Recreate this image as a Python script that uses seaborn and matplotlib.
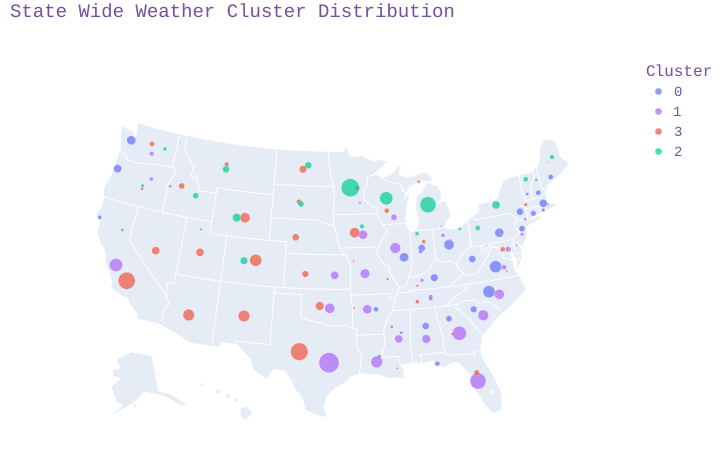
import numpy as np
import pandas as pd
import matplotlib
matplotlib.use("Agg")
import matplotlib.pyplot as plt
from matplotlib.lines import Line2D
import seaborn as sns

TITLE = "State Wide Weather Cluster Distribution"
LEGEND_TITLE = "Cluster"
CLUSTER_ORDER = ["0", "1", "3", "2"]
CLUSTER_COLORS = ["#636efa", "#ab63fa", "#ef553b", "#00cc96"]

# cluster points: position on the projected map, and diameter-like magnitude
c0_x = [131.3,117.7,99.7,449,421.7,404,472.3,495.7,499.3,522,520,533.3,543.3,538.3,527.3,550.7,543.3,516.7,487,434.3,489,430.7,376,473.7,449,425.7,401.3,379.3,437.3,387.7,205.7,252.3]
c0_y = [140.3,168.7,217.3,244.7,248,257.3,259,266.7,232.7,228.7,211.7,213.3,203.3,192.7,194,177,210,245.3,245,277.7,291.7,296.7,309.3,309.3,318.7,326,332.7,356.7,363.7,279,311,292.3]
c0_d = [9,8,4,10,7,9,7,12,9,6,7,5.5,8,5,3,5,3.5,2,1,7.5,12,4,5,6.5,6,7,3,4,5,2.5,1,1]

c1_x = [151.7,151.3,170.3,116,179.7,360,394,363,395.3,420.7,443,441,525.3,522,508.3,504,548.3,329,329.7,334.7,365,422,367.3,430.7,499.3,483.3,459.3,398.7,426.3,376.7,478]
c1_y = [153.7,179,186.3,265,142.3,202.7,217.3,234.7,248,251.7,235.3,226,219.3,234.3,249.3,267.3,204.3,362.7,308.3,275.3,273.7,280.3,309.3,298.7,294.3,315.3,333.3,339,339,362,381]
c1_d = [4.5,4,3,13,1.5,2.5,6,9,10.5,4,4,2,3,3.5,5.5,5,2,20,10,8,9.5,3.5,9,4,10,10.5,14,8,8.5,11.5,16]

c3_x = [152,142,181.7,226.7,303,299,245,295.7,155.7,200,255.7,357.3,386.7,418.7,354.7,423.7,353.7,525.7,502.7,382.3,531,547.3,450.7,501.7,126.7,188.7,244,299.3,319.7,305.3,417.3,417.3,354,391.7,452.7,476.7,397.3,506.7,496.7,347.3]
c3_y = [144,188.7,186,164.3,169.3,201.7,217.7,237.3,250.7,252.3,260.3,188.3,210.7,181.7,232.7,241.7,261,204.7,249.3,257.7,179,162.3,240,235,280.7,315,316,351.7,306,274,285.7,301.7,308.3,327,334,372.7,368.3,271.3,296.7,339.3]
c3_d = [5,3,6,4.5,7.5,5,10,7,8,8,12,5,5,3,10,4,2,3.5,5,1.5,1,1.5,2,2,17,11.5,11.5,17.5,8.5,6.5,2.5,4,2,3,3,5.5,2,2,2,1]

c2_x = [165,142.7,195.7,226,308.3,301,236.7,122.3,201,244,303,248.7,320.3,350.3,386.3,428,496,362,417,459.7,477.7,525.7,536.3,552]
c2_y = [149,185.7,195.7,169.3,165.3,204,217.7,230,229.3,260.7,224.7,229.7,211,187.7,198.3,204.7,205,226.3,233.7,229,228,179.3,180,157]
c2_d = [4,3.5,6,7,7,6,8.5,3,2.5,7.5,1,1,1,18,13,16,8,4.5,4,3,5,5,3,4.5]

# geography, lon/lat
coast = [(-124.7,48.4),(-123.1,48.15),(-122.95,48.1),(-122.7,47.4),(-122.5,48.0),(-122.75,49),(-95.15,49),(-95.15,49.38),(-94.8,49.3),(-94.6,48.7),(-93.8,48.55),(-92.95,48.62),(-92,48.3),(-91.4,48.07),(-90.8,48.2),(-89.6,48),(-90.8,47.3),(-92.1,46.75),(-91,46.9),(-90.4,46.55),(-89,46.9),(-88.4,47.4),(-87.9,47.47),(-88.4,46.8),(-87.4,46.5),(-86.5,46.5),(-85,46.75),(-84.4,46.5),(-84.1,46),(-84.7,45.95),(-85.5,46.08),(-86.4,45.8),(-87,45.7),(-87.6,45.1),(-88,44.55),(-87.4,44.9),(-87.05,45.25),(-87.5,44.3),(-87.9,43),(-87.8,42.3),(-87.6,41.8),(-87.2,41.63),(-86.6,41.9),(-86.25,42.6),(-86.5,43.6),(-86.25,44.7),(-85.6,45),(-85,45.7),(-84.7,45.78),(-83.5,45.35),(-83.3,44.9),(-83.3,44.3),(-83.9,43.9),(-83.4,43.95),(-82.9,44.07),(-82.45,43),(-82.5,42.6),(-83.1,42.25),(-83.4,41.72),(-82.7,41.5),(-81.7,41.5),(-80.5,42),(-79,42.7),(-78.9,42.9),(-79.05,43.26),(-77.5,43.27),(-76.4,43.5),(-76.2,44),(-75.3,44.85),(-74.7,45),(-71.5,45.01),(-71.3,45.3),(-70.85,45.25),(-70.3,45.9),(-70,46.7),(-69.2,47.45),(-68.3,47.35),(-67.8,47.07),(-67.8,45.7),(-67.45,45.3),(-67,44.85),(-68.2,44.3),(-69,44),(-70.2,43.6),(-70.7,43),(-70.8,42.6),(-71,42.3),(-70.6,41.95),(-70,41.8),(-70,42.05),(-69.95,41.67),(-70.65,41.55),(-71.2,41.48),(-71.4,41.45),(-72.9,41.25),(-73.7,40.95),(-72.3,41.15),(-71.9,41.05),(-73.9,40.55),(-74,40.45),(-74.1,39.75),(-74.9,38.95),(-75.5,39.5),(-75.1,38.8),(-75.2,38),(-75.95,37.15),(-75.8,37.9),(-76.2,38.8),(-76.1,39.4),(-76.5,38.9),(-76.3,37.9),(-76.3,37),(-75.95,36.6),(-75.5,35.25),(-76.5,34.65),(-77.9,33.9),(-79,33.4),(-79.9,32.7),(-81,32),(-81.4,30.7),(-81.3,29.9),(-80.55,28.45),(-80.05,26.9),(-80.15,25.75),(-80.4,25.2),(-81.1,25.15),(-81.8,26.1),(-82.2,26.9),(-82.75,27.8),(-82.65,28.7),(-83.7,29.9),(-84.2,30.05),(-85.3,29.68),(-86.3,30.38),(-87.5,30.28),(-88,30.25),(-88,30.7),(-88.1,30.35),(-89.3,30.3),(-89.6,30.18),(-89.4,29.9),(-89.4,29.2),(-89.1,29.05),(-90.1,29.15),(-91,29.2),(-91.8,29.5),(-92.3,29.53),(-93.8,29.7),(-94.7,29.4),(-95.3,28.9),(-96.4,28.35),(-97.2,27.6),(-97.4,26.8),(-97.15,25.95),(-97.5,25.85),(-99.1,26.4),(-99.5,27.5),(-100.3,28.3),(-100.7,29.1),(-101.4,29.77),(-102.3,29.88),(-102.7,29.7),(-103.15,28.98),(-104.5,29.65),(-104.9,30.6),(-106.5,31.75),(-108.2,31.78),(-108.2,31.33),(-111.07,31.33),(-114.8,32.5),(-117.12,32.53),(-117.3,33),(-118.4,33.75),(-118.5,34.03),(-119.2,34.15),(-120.6,34.55),(-120.65,35.15),(-121.9,36.6),(-122,36.95),(-122.5,37.75),(-123,38),(-123.7,38.9),(-123.8,39.8),(-124.4,40.4),(-124.1,41),(-124.2,42),(-124.5,42.85),(-124.1,44),(-123.95,46.2),(-124.1,46.9)]

borders = [
 [(-124,46.25),(-123.2,46.15),(-122.8,45.65),(-121.2,45.65),(-119.3,45.93),(-116.92,46)],
 [(-117.03,49),(-117.04,46.42),(-116.92,46),(-116.5,45.5),(-116.9,44.9),(-117.2,44.4),(-117.03,43.8),(-117.03,42)],
 [(-124.2,42),(-111.05,42)],
 [(-120,42),(-120,39),(-114.63,35),(-114.15,34.3),(-114.5,33.9),(-114.7,33.4),(-114.5,33),(-114.72,32.72)],
 [(-114.04,42),(-114.04,36.2),(-114.75,36.1),(-114.63,35)],
 [(-114.04,37),(-94.62,37)],
 [(-109.05,41),(-109.05,31.33)],
 [(-111.05,45),(-104.05,45)],
 [(-104.05,41),(-111.05,41),(-111.05,45)],
 [(-116.05,49),(-116.05,48),(-115.7,47.45),(-114.7,46.7),(-114.35,46.65),(-114.55,45.55),(-113.95,45.7),(-113.45,44.95),(-113,44.45),(-111.5,44.55),(-111.05,44.48)],
 [(-104.05,49),(-104.05,41)],
 [(-104.05,45.94),(-96.56,45.94)],
 [(-104.05,43),(-98.5,43),(-97.9,42.8),(-96.45,42.49)],
 [(-104.05,41),(-102.05,41),(-102.05,37)],
 [(-102.05,40),(-95.3,40)],
 [(-103,37),(-103,36.5),(-100,36.5),(-100,34.56),(-99.2,34.3),(-98.1,34.13),(-97.2,33.85),(-96.5,33.8),(-95.2,33.9),(-94.48,33.64)],
 [(-103.04,36.5),(-103.06,32),(-106.62,32),(-106.5,31.75)],
 [(-94.62,37),(-94.62,36.5),(-94.43,35.4),(-94.48,33.64),(-94.04,33.55),(-94.04,31.99),(-93.55,31.2),(-93.7,30.3),(-93.85,29.7)],
 [(-94.04,33.02),(-91.17,33),(-91.1,32.2),(-91.6,31),(-89.75,31),(-89.8,30.6),(-89.55,30.18)],
 [(-91.17,33),(-91.15,33.5),(-90.6,34.5),(-90.1,35),(-89.7,36),(-90.37,36),(-90.15,36.5),(-94.62,36.5)],
 [(-89.7,36),(-89.5,36.5),(-89.15,37)],
 [(-95.3,40),(-94.9,39.75),(-94.6,39.1),(-94.62,37)],
 [(-95.77,40.58),(-91.73,40.6),(-91.42,40.38)],
 [(-96.45,42.49),(-96.1,41.5),(-95.85,40.7),(-95.3,40)],
 [(-91.42,40.38),(-91.5,40),(-90.7,39),(-90.15,38.8),(-90.2,38.4),(-89.5,37.3),(-89.15,37)],
 [(-91.42,40.38),(-91.1,40.7),(-90.95,41.1),(-90.35,41.6),(-90.15,42.1),(-90.64,42.51),(-91.2,43.1),(-91.22,43.5)],
 [(-96.45,43.5),(-91.22,43.5),(-91.25,43.85),(-92.75,44.75),(-92.8,45.6),(-92.3,46.1),(-92.28,46.66),(-92.05,46.75)],
 [(-96.45,42.49),(-96.6,43.5),(-96.45,45.3),(-96.56,45.94),(-96.85,46.6),(-97.15,48),(-97.23,49)],
 [(-90.64,42.51),(-87.8,42.5)],
 [(-90.4,46.55),(-89.1,46.1),(-88.1,45.9),(-87.85,45.35),(-87.6,45.1)],
 [(-87.53,41.72),(-87.53,39.35),(-87.6,38.7),(-88.05,37.8)],
 [(-84.8,41.7),(-84.82,39.1)],
 [(-86.8,41.76),(-84.8,41.73),(-83.45,41.73)],
 [(-89.15,37),(-88.45,37.1),(-88.05,37.8),(-87.1,37.8),(-86.3,38.1),(-85.7,38.3),(-85.4,38.73),(-84.82,39.1),(-84.2,38.8),(-83,38.73),(-82.6,38.4),(-81.75,39.2),(-80.85,39.7),(-80.52,40.64)],
 [(-80.52,41.98),(-80.52,39.72),(-75.79,39.72),(-75.4,39.8)],
 [(-79.76,42.27),(-79.76,42),(-75.35,42),(-75.05,41.6),(-74.7,41.36),(-73.9,41)],
 [(-74.7,41.36),(-75.13,40.98),(-75.2,40.65),(-74.75,40.2),(-75.4,39.8)],
 [(-75.79,39.72),(-75.7,38.46),(-75.05,38.45)],
 [(-75.95,37.95),(-75.25,38.03)],
 [(-79.48,39.72),(-79.48,39.2),(-78.4,39.6),(-77.75,39.32),(-77.05,38.85),(-77.3,38.4),(-76.3,37.95)],
 [(-77.75,39.32),(-78.35,39.4),(-78.87,38.77),(-80.3,37.5),(-81.3,37.3),(-81.97,37.54),(-82.6,38.4)],
 [(-81.97,37.54),(-83.68,36.6)],
 [(-75.9,36.55),(-81.68,36.59),(-83.68,36.6),(-88.07,36.65),(-88.07,36.5),(-89.45,36.5)],
 [(-81.68,36.59),(-82,36.1),(-83.1,35.75),(-84.32,34.99)],
 [(-90.3,35),(-83.11,35),(-82.3,35.2),(-81.05,35.15),(-80.8,34.82),(-79.67,34.8),(-78.55,33.86)],
 [(-83.11,35),(-83.35,34.7),(-82.9,34.45),(-81.95,33.5),(-81.4,32.6),(-80.9,32.05)],
 [(-85.6,34.98),(-85.18,32.87),(-85,32.3),(-85.05,31.55),(-84.87,30.7),(-82.2,30.57),(-82.05,30.36),(-82,30.75),(-81.45,30.72)],
 [(-85,31),(-87.6,31),(-87.4,30.65),(-87.5,30.3)],
 [(-88.2,35),(-88.47,31.9),(-88.4,30.25)],
 [(-71.5,45.01),(-71.6,44.5),(-72.05,44.1),(-72.35,43.5),(-72.55,42.73)],
 [(-73.35,45.01),(-73.4,43.6),(-73.27,42.75),(-73.5,42.05),(-73.5,41.3),(-73.65,41)],
 [(-73.27,42.75),(-71.3,42.7),(-70.8,42.87)],
 [(-71.05,45.3),(-70.98,43.4),(-70.7,43.07)],
 [(-73.5,42.05),(-71.8,42.02),(-71.38,42.02),(-71.2,41.5)],
 [(-71.8,42.02),(-71.85,41.32)],
]
okeechobee = (-80.8, 26.95)

# inset shapes, already on the map plane
alaska = [(118.3,358.3),(131.7,352.3),(151.7,356),(158.3,391.7),(170,394),(186.7,405),(180,405),(170,398.3),(158.3,394),(143.3,391.7),(135,401.7),(126.7,406.7),(111.7,415),(123.3,405),(116.7,401.7),(111.7,386.7),(121.7,378.3),(113.3,376),(112.7,370),(120.7,368.3),(116.7,360)]
hawaii = [(240.7,408.3),(246.7,406.7),(252.3,413.3),(245,419.3),(240.7,416.7)]
hawaii_small = [(201.7,384.7,1.5),(218.3,391.7,2),(228.3,396,2),(236.7,400,1.6)]
kodiak = (135, 406, 1.5)

# Albers conic used by the base map
P1, P2, P0, L0 = np.radians(29.5), np.radians(45.5), np.radians(37.5), -96.0
N = (np.sin(P1) + np.sin(P2)) / 2
C = np.cos(P1) ** 2 + 2 * N * np.sin(P1)
R0 = np.sqrt(C - 2 * N * np.sin(P0)) / N
K, CX, CY = 654, 338, 283.6


def project(path, steps=8):
    lon, lat = [], []
    for (a, b), (c, d) in zip(path[:-1], path[1:]):
        lon.extend(np.linspace(a, c, steps, endpoint=False))
        lat.extend(np.linspace(b, d, steps, endpoint=False))
    lon.append(path[-1][0])
    lat.append(path[-1][1])
    lon, lat = np.array(lon), np.array(lat)
    r = np.sqrt(C - 2 * N * np.sin(np.radians(lat))) / N
    t = N * np.radians(lon - L0)
    return CX + K * r * np.sin(t), CY - K * (R0 - r * np.cos(t))


frames = []
for name, x, y, d in zip(CLUSTER_ORDER, [c0_x, c1_x, c3_x, c2_x], [c0_y, c1_y, c3_y, c2_y], [c0_d, c1_d, c3_d, c2_d]):
    frames.append(pd.DataFrame({"x": x, "y": y, "mag": np.array(d, float) ** 2, "Cluster": name}))
df = pd.concat(frames, ignore_index=True)

sns.set_style("white")
plt.rcParams["font.family"] = ["Liberation Mono", "DejaVu Sans"]
plt.rcParams["text.hinting"] = "no_hinting"
plt.rcParams["text.hinting_factor"] = 1
TEXT = "#7350a0"
LAND = "#e5ecf6"

fig = plt.figure(figsize=(7.22, 4.51), dpi=100)
ax = fig.add_axes([0, 0, 1, 1])

px, py = project(coast + coast[:1])
ax.fill(px, py, color=LAND, lw=0, zorder=1)
for line in borders:
    bx, by = project(line)
    ax.plot(bx, by, color="white", lw=0.7, zorder=2, solid_capstyle="round")
ax.fill(*zip(*alaska), color=LAND, lw=0, zorder=1)
ax.fill(*zip(*hawaii), color=LAND, lw=0, zorder=1)
for sx, sy, r in hawaii_small + [kodiak]:
    ax.add_patch(plt.Circle((sx, sy), r, color=LAND, lw=0, zorder=1))
ox, oy = project([okeechobee, okeechobee], steps=1)
ax.add_patch(plt.Circle((ox[0], oy[0]), 1.6, color="white", lw=0, zorder=2))

PX2 = 0.72 ** 2  # px^2 to pt^2
sns.scatterplot(
    data=df, x="x", y="y", hue="Cluster", hue_order=CLUSTER_ORDER,
    palette=dict(zip(CLUSTER_ORDER, CLUSTER_COLORS)),
    size="mag", sizes=(df.mag.min() * PX2, df.mag.max() * PX2),
    size_norm=(df.mag.min(), df.mag.max()),
    alpha=0.7, edgecolor="white", linewidth=0.25, legend=False, ax=ax, zorder=3,
)
ax.set_xlim(0, 722)
ax.set_ylim(451, 0)
ax.set_axis_off()

fig.text(10 / 722, 1 - 12.5 / 451, TITLE, color=TEXT, fontsize=13.4, va="center", ha="left")

handles = [Line2D([], [], ls="", marker="o", ms=5, mfc=c, mec="white", mew=0.3, alpha=0.7) for c in CLUSTER_COLORS]
leg = ax.legend(
    handles, CLUSTER_ORDER, title=LEGEND_TITLE, loc="upper left",
    bbox_to_anchor=(645 / 722, 1 - 64 / 451), bbox_transform=fig.transFigure,
    frameon=False, fontsize=10.1, title_fontsize=11.7, alignment="left",
    borderpad=0, borderaxespad=0, labelspacing=0.5, handletextpad=0.1,
    handlelength=1.9,
)
leg.get_title().set_color(TEXT)
for t in leg.get_texts():
    t.set_color(TEXT)

fig.savefig("out.png", dpi=100)
